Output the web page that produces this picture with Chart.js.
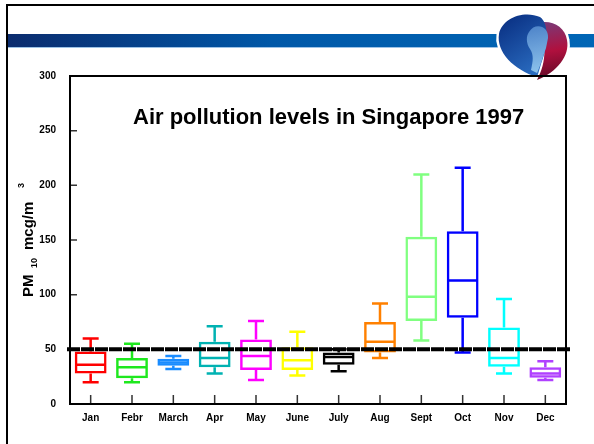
<!DOCTYPE html>
<html>
<head>
<meta charset="utf-8">
<script src="https://cdn.jsdelivr.net/npm/chart.js@4.4.1/dist/chart.umd.min.js"></script>
<style>
html, body { margin: 0; padding: 0; background: #fff; }
</style>
</head>
<body>
<canvas id="pmChart" width="594" height="444"></canvas>
<script>
// Monthly PM10 distribution (box plot values)
const months = ['Jan', 'Febr', 'March', 'Apr', 'May', 'June', 'July', 'Aug', 'Sept', 'Oct', 'Nov', 'Dec'];
const mins    = [20, 20, 32, 28, 22, 26, 30, 42, 58, 47, 28, 22];
const q1s     = [28, 23.5, 35, 33.5, 31, 31, 36, 47, 76, 79, 34, 24];
const medians = [36, 33.5, 38, 42, 44, 40, 43, 57, 98, 113, 42, 28];
const q3s     = [48, 42, 41.5, 57, 59, 52, 47, 75, 153, 158, 70, 33.5];
const maxs    = [60, 55, 44, 71, 76, 66, 50, 92, 210, 216, 96, 39];
const limitValue = 50;
const yTicks = [0, 50, 100, 150, 200, 250, 300];

// One colour per month
const colors = [
    '#ff0000', '#1ee81e', '#1a8cff', '#00b2b2', '#ff00ff', '#ffff00',
    '#000000', '#ff8000', '#80ff80', '#0000ff', '#00ffff', '#b040ff'
];

const FONT = 'Liberation Sans, Arial, Helvetica, sans-serif';

// slide decoration: frame, blue band, logo
const slidePlugin = {
    id: 'slide',
    beforeDraw(chart) {
        const c = chart.ctx;
        c.save();
        c.fillStyle = '#fff';
        c.fillRect(0, 0, chart.width, chart.height);

        // band
        const g = c.createLinearGradient(8, 0, 594, 0);
        g.addColorStop(0, '#0b2c6e');
        g.addColorStop(0.45, '#0058a8');
        g.addColorStop(1, '#0066b6');
        c.fillStyle = g;
        c.fillRect(8, 34, 586, 13);
        c.fillStyle = '#9cc2e6';
        c.fillRect(8, 47, 586, 1);

        // frame
        c.strokeStyle = '#000';
        c.lineWidth = 2;
        c.beginPath();
        c.moveTo(7, 444);
        c.lineTo(7, 5);
        c.lineTo(594, 5);
        c.stroke();

        // logo
        const bluePath = new Path2D();
        bluePath.moveTo(537, 77);
        bluePath.bezierCurveTo(514, 70, 496, 52, 499, 34);
        bluePath.bezierCurveTo(502, 18, 524, 10, 540, 17);
        bluePath.bezierCurveTo(549, 23, 548, 44, 543, 58);
        bluePath.bezierCurveTo(540, 66, 539, 72, 537, 77);
        bluePath.closePath();

        const redPath = new Path2D();
        redPath.moveTo(537, 80);
        redPath.bezierCurveTo(557, 72, 570, 56, 567, 40);
        redPath.bezierCurveTo(565, 26, 551, 19, 537, 23);
        redPath.bezierCurveTo(547, 40, 547, 62, 537, 80);
        redPath.closePath();

        c.strokeStyle = '#fff';
        c.lineWidth = 5;
        c.stroke(bluePath);
        c.stroke(redPath);

        const rg = c.createLinearGradient(545, 22, 555, 80);
        rg.addColorStop(0, '#7a3a78');
        rg.addColorStop(0.5, '#b0103e');
        rg.addColorStop(1, '#5e0a26');
        c.fillStyle = rg;
        c.fill(redPath);

        const bg = c.createLinearGradient(505, 18, 540, 70);
        bg.addColorStop(0, '#0a3184');
        bg.addColorStop(1, '#2a6cc0');
        c.fillStyle = bg;
        c.fill(bluePath);

        const face = new Path2D();
        face.moveTo(529, 32);
        face.bezierCurveTo(535, 22, 549, 26, 548, 38);
        face.lineTo(546, 48);
        face.bezierCurveTo(543, 56, 541, 64, 537, 73);
        face.lineTo(531, 70);
        face.bezierCurveTo(533, 61, 534, 55, 530, 49);
        face.bezierCurveTo(526, 43, 526, 36, 529, 32);
        face.closePath();
        const fg = c.createLinearGradient(530, 25, 540, 72);
        fg.addColorStop(0, '#4c82c8');
        fg.addColorStop(1, '#8cc2ec');
        c.fillStyle = fg;
        c.fill(face);
        c.restore();
    }
};

// whiskers, medians, frame, limit line and texts
const boxPlugin = {
    id: 'boxExtras',
    afterDatasetsDraw(chart) {
        const c = chart.ctx;
        const x = chart.scales.x;
        const y = chart.scales.y;
        const area = chart.chartArea;
        const meta = chart.getDatasetMeta(0);
        c.save();

        meta.data.forEach((bar, i) => {
            const cx = bar.x;
            const half = bar.width / 2;
            c.strokeStyle = colors[i];
            c.lineWidth = 2.5;
            c.beginPath();
            // median
            c.moveTo(cx - half + 1, y.getPixelForValue(medians[i]));
            c.lineTo(cx + half - 1, y.getPixelForValue(medians[i]));
            // upper whisker
            c.moveTo(cx, y.getPixelForValue(q3s[i]));
            c.lineTo(cx, y.getPixelForValue(maxs[i]));
            c.moveTo(cx - 8, y.getPixelForValue(maxs[i]));
            c.lineTo(cx + 8, y.getPixelForValue(maxs[i]));
            // lower whisker
            c.moveTo(cx, y.getPixelForValue(q1s[i]));
            c.lineTo(cx, y.getPixelForValue(mins[i]));
            c.moveTo(cx - 8, y.getPixelForValue(mins[i]));
            c.lineTo(cx + 8, y.getPixelForValue(mins[i]));
            c.stroke();
        });

        // inner tick marks
        c.strokeStyle = '#333';
        c.lineWidth = 1.5;
        c.beginPath();
        yTicks.forEach(v => {
            const py = y.getPixelForValue(v);
            c.moveTo(area.left, py);
            c.lineTo(area.left + 7, py);
        });
        months.forEach((m, i) => {
            const px = x.getPixelForValue(i);
            c.moveTo(px, area.bottom);
            c.lineTo(px, area.bottom - 9);
        });
        c.stroke();

        // plot frame
        c.strokeStyle = '#000';
        c.lineWidth = 2;
        c.strokeRect(area.left, area.top, area.right - area.left, area.bottom - area.top);

        // limit line at 50
        const ly = y.getPixelForValue(limitValue);
        c.strokeStyle = '#000';
        c.lineWidth = 4;
        c.setLineDash([13, 1]);
        c.beginPath();
        c.moveTo(area.left - 3, ly);
        c.lineTo(area.right + 4, ly);
        c.stroke();
        c.setLineDash([]);

        // title inside plot
        c.fillStyle = '#000';
        c.font = 'bold 22px ' + FONT;
        c.textAlign = 'left';
        c.textBaseline = 'alphabetic';
        c.fillText('Air pollution levels in Singapore 1997', 133, 124);

        // y axis title with sub/superscript
        c.translate(33, 297);
        c.rotate(-Math.PI / 2);
        c.font = 'bold 15px ' + FONT;
        c.fillText('PM', 0, 0);
        c.font = 'bold 9px ' + FONT;
        c.fillText('10', 29, 4);
        c.font = 'bold 15px ' + FONT;
        c.fillText('mcg/m', 47, 0);
        c.font = 'bold 9px ' + FONT;
        c.fillText('3', 109, -9);
        c.restore();
    }
};

const ctx = document.getElementById('pmChart').getContext('2d');
const pmChart = new Chart(ctx, {
    type: 'bar',
    data: {
        labels: months,
        datasets: [{
            label: 'PM10',
            data: months.map((m, i) => [q1s[i], q3s[i]]),
            backgroundColor: 'rgba(255,255,255,0)',
            borderColor: colors,
            borderWidth: 2.5,
            borderSkipped: false,
            categoryPercentage: 1,
            barPercentage: 0.77
        }]
    },
    options: {
        responsive: false,
        animation: false,
        layout: {
            padding: { left: 0, top: 76, right: 28, bottom: 0 }
        },
        plugins: {
            legend: { display: false },
            tooltip: { enabled: false },
            title: { display: false }
        },
        scales: {
            x: {
                type: 'category',
                offset: true,
                grid: { display: false, drawTicks: false },
                border: { display: false },
                ticks: {
                    color: '#000',
                    padding: 8,
                    maxRotation: 0,
                    autoSkip: false,
                    font: { family: FONT, size: 10, weight: 'bold' }
                },
                afterFit(scale) { scale.height = 40; }
            },
            y: {
                min: 0,
                max: 300,
                grid: { display: false, drawTicks: false },
                border: { display: false },
                afterBuildTicks(scale) {
                    scale.ticks = yTicks.map(v => ({ value: v }));
                },
                ticks: {
                    color: '#000',
                    padding: 14,
                    font: { family: FONT, size: 10, weight: 'bold' }
                },
                afterFit(scale) { scale.width = 70; }
            }
        }
    },
    plugins: [slidePlugin, boxPlugin]
});
</script>
</body>
</html>
